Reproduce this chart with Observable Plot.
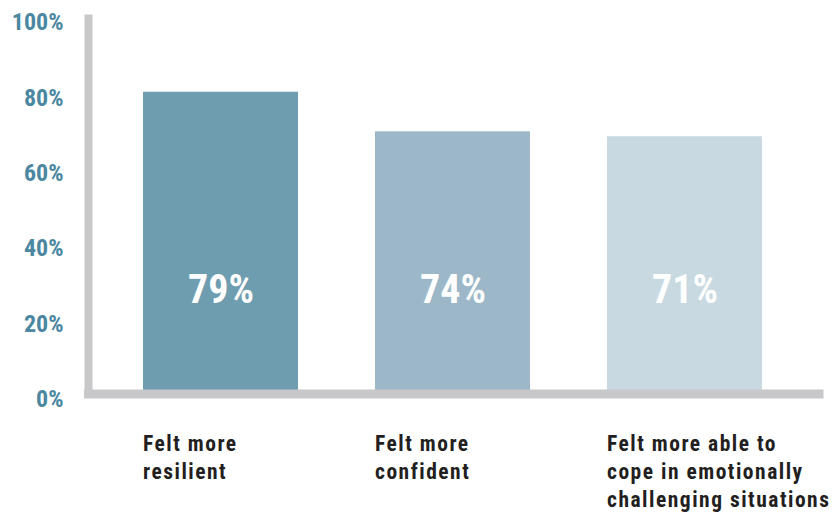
<!DOCTYPE html>
<html>
<head>
<meta charset="utf-8">
<script src="https://cdn.jsdelivr.net/npm/d3@7"></script>
<script src="https://cdn.jsdelivr.net/npm/@observablehq/plot@0.6"></script>
<style>
  html, body { margin: 0; padding: 0; background: #ffffff; }
  g[aria-label="x-axis tick label"] text { letter-spacing: 1.5px; }
</style>
</head>
<body>
<div id="chart"></div>
<script>
// Data
const categories = [
  "Felt more\nresilient",
  "Felt more\nconfident",
  "Felt more able to\ncope in emotionally\nchallenging situations"
];
const barValues = [81.5, 71, 69.7];          // bar heights as drawn (on the % axis)
const valueLabels = ["79%", "74%", "71%"];   // printed labels
const barColors = ["#6f9db0", "#9cb8c8", "#c8d9e1"];
const yTicks = [0, 20, 40, 60, 80, 100];

const data = categories.map((c, i) => ({
  category: c, value: barValues[i], label: valueLabels[i], color: barColors[i]
}));

const font = "'Roboto Condensed', 'Liberation Sans Narrow', Roboto, sans-serif";
const labelLevel = 29;

const chart = Plot.plot({
  width: 834,
  height: 524,
  marginTop: 18,
  marginLeft: 88,
  marginRight: 15.5,
  marginBottom: 130.5,
  style: { fontFamily: font, background: "#ffffff" },
  x: { domain: categories, paddingInner: 0.33, paddingOuter: 0, insetLeft: 54, insetRight: 54.5, label: null },
  y: { domain: [0, 100], insetTop: 4, insetBottom: -5.5, label: null },
  marks: [
    Plot.barY(data, { x: "category", y: "value", fill: "color", insetBottom: 1 }),
    Plot.text(data, {
      x: "category", y: () => labelLevel, text: "label",
      fill: "#ffffff", fontSize: 40, fontWeight: "bold", fontFamily: font
    }),
    Plot.frame({ anchor: "bottom", stroke: "#c8c8ca", strokeWidth: 9, strokeLinecap: "square" }),
    Plot.frame({ anchor: "left", stroke: "#c8c8ca", strokeWidth: 8, strokeLinecap: "square" }),
    Plot.axisY({
      ticks: yTicks, tickFormat: d => d + "%", tickSize: 0, tickPadding: 25, label: null,
      fontSize: 24, fontWeight: "bold", fill: "#4b87a0", fontFamily: font
    }),
    Plot.axisX({
      tickSize: 0, tickPadding: 36.5, textAnchor: "start", dx: -78, label: null,
      lineHeight: 1.32, fontSize: 21.5, fontWeight: "bold", fill: "#231f20", fontFamily: font
    })
  ]
});
document.getElementById("chart").appendChild(chart);
</script>
</body>
</html>
